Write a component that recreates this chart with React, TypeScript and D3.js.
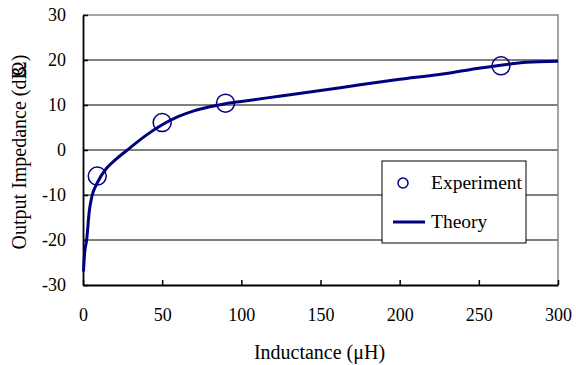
import React, { useRef, useEffect } from 'react';
import * as d3 from 'd3';

// Experiment measurements (inductance uH, output impedance dBΩ)
const expL = [9, 50, 90, 264];
const expZ = [-5.8, 6.1, 10.4, 18.7];

// Theory curve
const theoryL = [0.3, 1, 2.3, 4, 5.5, 9, 15, 20, 28, 40, 50, 60, 70, 80, 90, 100, 125, 150, 175, 200, 225, 245, 265, 280, 300];
const theoryZ = [-27, -23, -20, -13.5, -10.5, -7.3, -4, -2.3, 0, 3.3, 5.6, 7.4, 8.7, 9.6, 10.3, 10.8, 12, 13.2, 14.5, 15.7, 16.8, 17.9, 18.9, 19.5, 19.7];

const xTicks = [0, 50, 100, 150, 200, 250, 300];
const yTicks = [-30, -20, -10, 0, 10, 20, 30];
const gridVals = [-20, -10, 0, 10, 20];

const NAVY = '#000080';
const FONT = "'Liberation Serif', 'Times New Roman', Times, serif";

const App: React.FC = () => {
  const svgRef = useRef<SVGSVGElement | null>(null);

  useEffect(() => {
    if (!svgRef.current) return;
    const svg = d3.select(svgRef.current);
    svg.selectAll('*').remove();

    const x = d3.scaleLinear().domain([0, 300]).range([83, 558]);
    const y = d3.scaleLinear().domain([-30, 30]).range([285, 15]);

    // gridlines
    svg.append('g')
      .selectAll('line')
      .data(gridVals)
      .join('line')
      .attr('x1', x(0)).attr('x2', x(300))
      .attr('y1', d => y(d)).attr('y2', d => y(d))
      .attr('stroke', '#000').attr('stroke-width', 1);

    // top + right frame (gray)
    svg.append('path')
      .attr('d', `M${x(0)},${y(30)}H${x(300)}V${y(-30)}`)
      .attr('fill', 'none').attr('stroke', '#888').attr('stroke-width', 1.5);

    // axes
    const xAxis = svg.append('g')
      .attr('transform', `translate(0,${y(-30)})`)
      .call(d3.axisBottom(x).tickValues(xTicks).tickFormat(d => String(d)).tickSizeInner(-5).tickSizeOuter(0).tickPadding(23));
    const yAxis = svg.append('g')
      .attr('transform', `translate(${x(0)},0)`)
      .call(d3.axisLeft(y).tickValues(yTicks).tickFormat(d => String(d)).tickSizeInner(-5).tickSizeOuter(0).tickPadding(17));
    [xAxis, yAxis].forEach(a => {
      a.attr('font-family', null).attr('font-size', null);
      a.select('.domain').attr('stroke', '#000').attr('stroke-width', 1.8);
      a.selectAll('.tick line').attr('stroke', '#000').attr('stroke-width', 1.5);
      a.selectAll('.tick text').attr('fill', '#000');
    });

    // theory line
    const pts: [number, number][] = theoryL.map((l, i) => [l, theoryZ[i]]);
    const line = d3.line<[number, number]>()
      .x(d => x(d[0]))
      .y(d => y(d[1]))
      .curve(d3.curveMonotoneX);
    svg.append('path')
      .datum(pts)
      .attr('fill', 'none')
      .attr('stroke', NAVY)
      .attr('stroke-width', 3)
      .attr('d', line);

    // experiment markers
    svg.append('g')
      .selectAll('circle')
      .data(expL.map((l, i) => [l, expZ[i]]))
      .join('circle')
      .attr('cx', d => x(d[0])).attr('cy', d => y(d[1]))
      .attr('r', 9)
      .attr('fill', 'none').attr('stroke', NAVY).attr('stroke-width', 1.5);

    // legend
    const lg = svg.append('g').attr('font-size', 19.5);
    lg.append('rect')
      .attr('x', 382).attr('y', 161).attr('width', 144).attr('height', 82)
      .attr('fill', '#fff').attr('stroke', '#000').attr('stroke-width', 1);
    lg.append('circle')
      .attr('cx', 403).attr('cy', 183).attr('r', 5)
      .attr('fill', 'none').attr('stroke', NAVY).attr('stroke-width', 1.5);
    lg.append('text').attr('x', 431).attr('y', 189).text('Experiment');
    lg.append('line')
      .attr('x1', 393).attr('x2', 425).attr('y1', 222).attr('y2', 222)
      .attr('stroke', NAVY).attr('stroke-width', 3);
    lg.append('text').attr('x', 431).attr('y', 228).text('Theory');

    // axis titles
    svg.append('text')
      .attr('x', x(150) - 1).attr('y', 359)
      .attr('text-anchor', 'middle')
      .attr('font-size', 20)
      .text('Inductance (μH)');
    const yt = svg.append('text')
      .attr('transform', `translate(26,${y(0) + 2}) rotate(-90)`)
      .attr('text-anchor', 'middle')
      .attr('font-size', 20);
    yt.append('tspan').text('Output Impedance (dB');
    yt.append('tspan').attr('dx', '-0.5em').text('Ω');
    yt.append('tspan').text(')');
  }, []);

  return (
    <svg
      ref={svgRef}
      width={576}
      height={365}
      style={{ position: 'absolute', left: 0, top: 0, background: '#fff', fontFamily: FONT, fontSize: 18 }}
    />
  );
};

export default App;
